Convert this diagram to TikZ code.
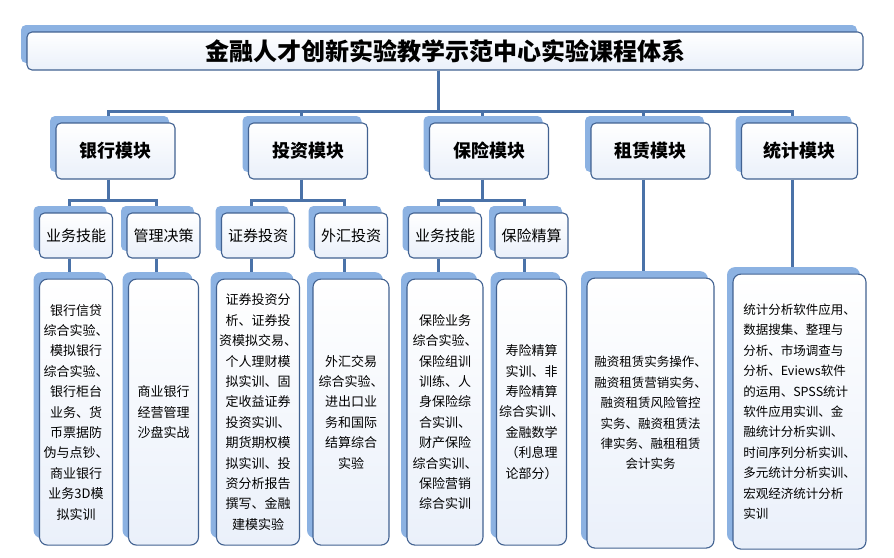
\documentclass[tikz,border=0pt]{standalone}
\usepackage{fontspec}
\setmainfont{Noto Sans CJK SC}
\usepackage{tikz}
\usetikzlibrary{positioning, shadows, backgrounds}
\definecolor{boxline}{RGB}{66,98,145}
\definecolor{boxfill}{RGB}{234,240,250}
\definecolor{shadowblue}{RGB}{140,178,226}
\definecolor{linkblue}{RGB}{74,114,168}
\tikzstyle{box}=[rectangle, rounded corners=5pt, draw=boxline, line width=1.1pt, top color=white, bottom color=boxfill, general shadow={shadow xshift=-6pt, shadow yshift=7pt, fill=shadowblue}]
\tikzstyle{headbox}=[box, minimum width=836pt, minimum height=38pt, font=\bfseries\fontsize{24pt}{28pt}\selectfont]
\tikzstyle{module}=[box, minimum width=119pt, minimum height=56pt, font=\bfseries\fontsize{18pt}{22pt}\selectfont]
\tikzstyle{subbox}=[box, minimum width=73pt, minimum height=45pt, inner sep=1pt, font=\fontsize{15pt}{18pt}\selectfont]
\tikzstyle{textbox}=[box, rounded corners=8pt, minimum height=266pt, inner sep=2pt, align=center, font=\fontsize{13pt}{20.4pt}\selectfont]
\tikzstyle{link}=[line width=3pt, draw=linkblue]

\begin{document}
\begin{tikzpicture}[x=1pt, y=-1pt]
                \useasboundingbox (0,0) rectangle (894,557);

                % Titre
                \node[headbox] (head) at (445,51) {金融人才创新实验教学示范中心实验课程体系};

                % Modules
                \node[module] (bank) at (115.5,151) {银行模块};
                \node[module] (invest) at (308,151) {投资模块};
                \node[module] (insure) at (489,151) {保险模块};
                \node[module] (lease) at (650.5,151) {租赁模块};
                \node[module, minimum width=116pt] (stat) at (799.5,151) {统计模块};

                % Sous-modules
                \node[subbox] (bankskill) at (76,235.5) {业务技能};
                \node[subbox] (bankmgmt) at (163.5,235.5) {管理决策};
                \node[subbox] (sec) at (258,235.5) {证券投资};
                \node[subbox] (fx) at (351,235.5) {外汇投资};
                \node[subbox] (insskill) at (445,235.5) {业务技能};
                \node[subbox] (actuary) at (531.5,235.5) {保险精算};

                % Contenus
                \node[textbox, minimum width=73pt, below=20pt of bankskill] (banktext)
                    {银行信贷\\综合实验、\\模拟银行\\综合实验、\\银行柜台\\业务、货\\币票据防\\伪与点钞、\\商业银行\\业务3D模\\拟实训};
                \node[textbox, minimum width=70pt, below=20pt of bankmgmt] (mgmttext)
                    {商业银行\\经营管理\\沙盘实战};
                \node[textbox, minimum width=83pt, below=20pt of sec] (sectext)
                    {证券投资分\\析、证券投\\资模拟交易、\\个人理财模\\拟实训、固\\定收益证券\\投资实训、\\期货期权模\\拟实训、投\\资分析报告\\撰写、金融\\建模实验};
                \node[textbox, minimum width=76pt, below=20pt of fx] (fxtext)
                    {外汇交易\\综合实验、\\进出口业\\务和国际\\结算综合\\实验};
                \node[textbox, minimum width=76pt, below=20pt of insskill] (instext)
                    {保险业务\\综合实验、\\保险组训\\训练、人\\身保险综\\合实训、\\财产保险\\综合实训、\\保险营销\\综合实训};
                \node[textbox, minimum width=70pt, below=20pt of actuary] (acttext)
                    {寿险精算\\实训、非\\寿险精算\\综合实训、\\金融数学\\（利息理\\论部分）};
                \node[textbox, minimum width=127pt, minimum height=270pt, font=\fontsize{12.5pt}{20.4pt}\selectfont, below=98pt of lease] (leasetext)
                    {融资租赁实务操作、\\融资租赁营销实务、\\融资租赁风险管控\\实务、融资租赁法\\律实务、融租租赁\\会计实务};
                \node[textbox, minimum width=133pt, minimum height=275pt, align=left, font=\fontsize{12.5pt}{20.4pt}\selectfont, below=94pt of stat] (stattext)
                    {统计分析软件应用、\\数据搜集、整理与\\分析、市场调查与\\分析、Eviews软件\\的运用、SPSS统计\\软件应用实训、金\\融统计分析实训、\\时间序列分析实训、\\多元统计分析实训、\\宏观经济统计分析\\实训};

                % Liaisons
                \begin{scope}[on background layer]
                \foreach \m in {bank,invest,insure,lease,stat}
                    \draw[link] ([xshift=-7pt]head.south) -- ++(0,41) -| ([xshift=-7pt]\m.north);
                \foreach \m/\a/\b in {bank/bankskill/bankmgmt, invest/sec/fx, insure/insskill/actuary} {
                    \draw[link] ([xshift=-7pt]\m.south) -- ++(0,21) -| ([xshift=-7pt]\a.north);
                    \draw[link] ([xshift=-7pt]\m.south) -- ++(0,21) -| ([xshift=-7pt]\b.north);
                }
                \foreach \a/\b in {bankskill/banktext, bankmgmt/mgmttext, sec/sectext, fx/fxtext, insskill/instext, actuary/acttext, lease/leasetext, stat/stattext}
                    \draw[link] ([xshift=-7pt]\a.south) -- ([xshift=-7pt]\b.north);
                \end{scope}
            \end{tikzpicture}
\end{document}
